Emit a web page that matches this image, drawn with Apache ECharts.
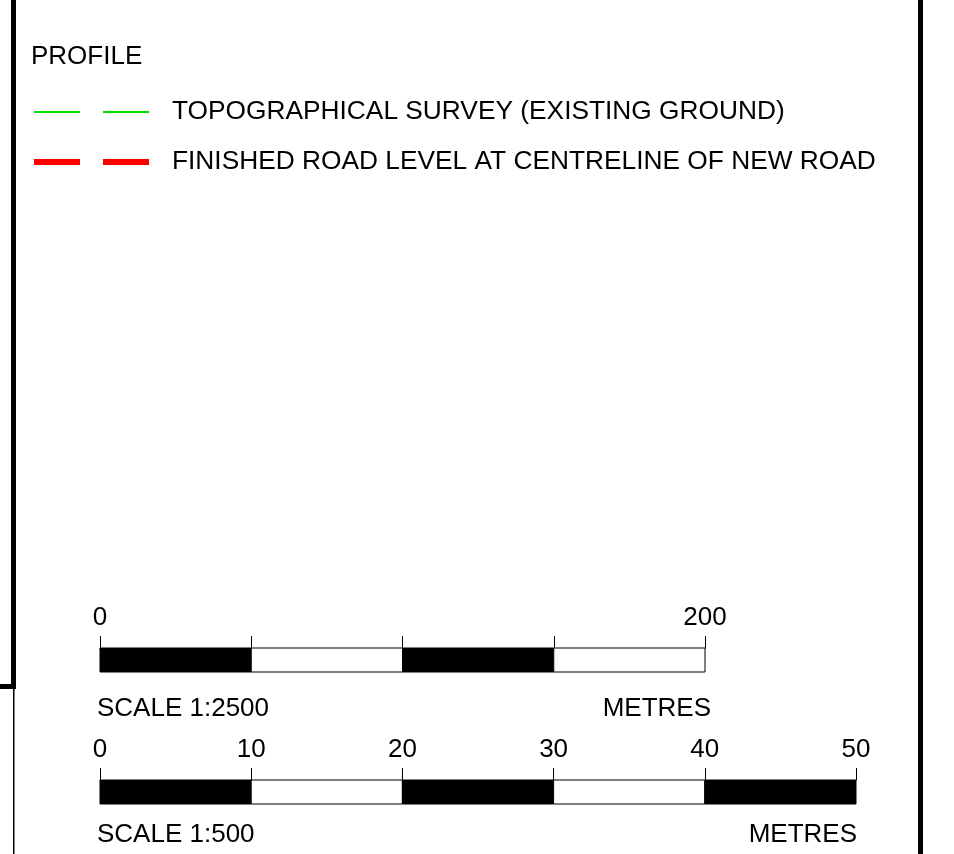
<!DOCTYPE html>
<html>
<head>
<meta charset="utf-8">
<script src="https://cdn.jsdelivr.net/npm/echarts@6/dist/echarts.min.js"></script>
<style>
html,body{margin:0;padding:0;background:#fff;}
#chart{width:954px;height:854px;}
</style>
</head>
<body>
<div id="chart"></div>
<script>
// ---- data ----
const legendTitle = 'PROFILE';
const seriesNames = ['TOPOGRAPHICAL SURVEY (EXISTING GROUND)', 'FINISHED ROAD LEVEL AT CENTRELINE OF NEW ROAD'];
const seriesColors = ['#00dd00', '#ff0000'];

const scale1Ticks = [0, 50, 100, 150, 200];
const scale1Labels = ['0', '', '', '', '200'];
const scale1Fills = ['#000000', '#ffffff', '#000000', '#ffffff'];
const scale1Title = 'SCALE 1:2500';

const scale2Ticks = [0, 10, 20, 30, 40, 50];
const scale2Labels = ['0', '10', '20', '30', '40', '50'];
const scale2Fills = ['#000000', '#ffffff', '#000000', '#ffffff', '#000000'];
const scale2Title = 'SCALE 1:500';

const unitLabel = 'METRES';

// ---- build ----
const FONT = "'Liberation Sans', Arial, sans-serif";

function segData(ticks, fills) {
  const out = [];
  for (let i = 0; i < ticks.length - 1; i++) out.push([ticks[i], ticks[i + 1], fills[i] === '#000000' ? 0 : 1]);
  return out;
}

function renderSeg(params, api) {
  const p0 = api.coord([api.value(0), 1]);
  const p1 = api.coord([api.value(1), 0]);
  return {
    type: 'rect',
    shape: { x: p0[0], y: p0[1], width: p1[0] - p0[0], height: p1[1] - p0[1] },
    style: { fill: api.value(2) === 0 ? '#000000' : '#ffffff', stroke: '#000000', lineWidth: 1 }
  };
}

function scaleAxis(gridIndex, ticks, labels) {
  return {
    gridIndex: gridIndex,
    type: 'value',
    position: 'top',
    min: ticks[0],
    max: ticks[ticks.length - 1],
    interval: ticks[1] - ticks[0],
    splitLine: { show: false },
    axisLine: { show: true, onZero: false, lineStyle: { color: '#000', width: 1 } },
    axisTick: { show: true, length: 12, inside: false, lineStyle: { color: '#000', width: 1 } },
    axisLabel: {
      show: true, margin: 17, color: '#000', fontSize: 26, fontFamily: FONT,
      formatter: function (v) { const i = ticks.indexOf(v); return i >= 0 ? labels[i] : ''; }
    }
  };
}

function legendFor(idx, top, h) {
  return {
    orient: 'vertical',
    left: 29,
    top: top,
    itemWidth: 115,
    itemHeight: h,
    selectedMode: false,
    icon: 'path://M0,0H46V' + h + 'H0Z M69,0H115V' + h + 'H69Z',
    textStyle: { color: '#000', fontSize: 26.3, fontFamily: FONT, padding: [0, 0, 0, 18] },
    data: [seriesNames[idx]]
  };
}

const chart = echarts.init(document.getElementById('chart'), null, { renderer: 'canvas' });

const option = {
  backgroundColor: '#ffffff',
  animation: false,
  grid: [
    { left: 100, width: 605, top: 648, height: 24, show: false },
    { left: 100, width: 756, top: 780, height: 24, show: false },
    { left: 300, width: 10, top: 300, height: 10, show: false }
  ],
  xAxis: [
    scaleAxis(0, scale1Ticks, scale1Labels),
    scaleAxis(1, scale2Ticks, scale2Labels),
    { gridIndex: 2, type: 'value', show: false }
  ],
  yAxis: [
    { gridIndex: 0, type: 'value', min: 0, max: 1, show: false },
    { gridIndex: 1, type: 'value', min: 0, max: 1, show: false },
    { gridIndex: 2, type: 'value', show: false }
  ],
  legend: [
    legendFor(0, 94, 2),
    legendFor(1, 144, 6)
  ],
  graphic: [
    { type: 'text', left: 31, top: 44, style: { text: legendTitle, fill: '#000', font: '26px ' + FONT } },
    { type: 'text', left: 97, top: 696, style: { text: scale1Title, fill: '#000', font: '26px ' + FONT } },
    { type: 'text', right: 954 - 711, top: 696, style: { text: unitLabel, fill: '#000', font: '26px ' + FONT } },
    { type: 'text', left: 97, top: 822, style: { text: scale2Title, fill: '#000', font: '26px ' + FONT } },
    { type: 'text', right: 954 - 857, top: 822, style: { text: unitLabel, fill: '#000', font: '26px ' + FONT } },
    // drawing frame
    { type: 'rect', shape: { x: 11, y: 0, width: 5, height: 689 }, style: { fill: '#000' } },
    { type: 'rect', shape: { x: 0, y: 684, width: 16, height: 5 }, style: { fill: '#000' } },
    { type: 'rect', shape: { x: 13, y: 689, width: 1.5, height: 165 }, style: { fill: '#000' } },
    { type: 'rect', shape: { x: 918, y: 0, width: 5, height: 854 }, style: { fill: '#000' } }
  ],
  series: [
    {
      type: 'custom', xAxisIndex: 0, yAxisIndex: 0,
      renderItem: renderSeg, data: segData(scale1Ticks, scale1Fills), silent: true
    },
    {
      type: 'custom', xAxisIndex: 1, yAxisIndex: 1,
      renderItem: renderSeg, data: segData(scale2Ticks, scale2Fills), silent: true
    },
    {
      name: seriesNames[0], type: 'line', xAxisIndex: 2, yAxisIndex: 2, data: [],
      symbol: 'none', color: seriesColors[0],
      lineStyle: { color: seriesColors[0], width: 2 }
    },
    {
      name: seriesNames[1], type: 'line', xAxisIndex: 2, yAxisIndex: 2, data: [],
      symbol: 'none', color: seriesColors[1],
      lineStyle: { color: seriesColors[1], width: 6 }
    }
  ]
};
chart.setOption(option);
</script>
</body>
</html>
